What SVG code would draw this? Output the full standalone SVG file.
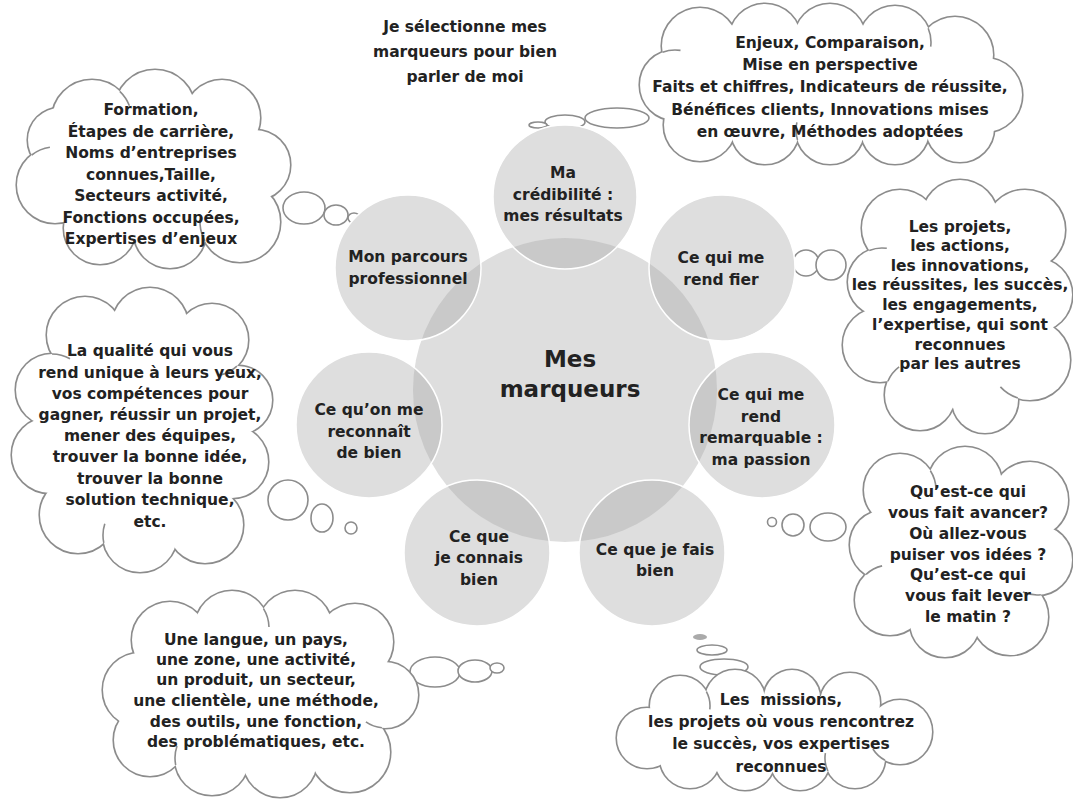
<svg xmlns="http://www.w3.org/2000/svg" xmlns:xlink="http://www.w3.org/1999/xlink" width="1073" height="806" viewBox="0 0 1073 806">
<style>
text{font-family:"DejaVu Sans","Liberation Sans",sans-serif;font-weight:bold;font-size:15.5px;fill:#222;text-anchor:middle}
.big{font-size:23px}
.cs{fill:#fff;stroke:#8c8c8c;stroke-width:3.2}
.cf{fill:#fff;stroke:none}
.hook{fill:none;stroke:#8c8c8c;stroke-width:1.6}
.disc{fill:#dedede}
.lap{fill:#c9c9c9}
.ring{fill:none;stroke:#fff;stroke-width:1.5}
.bub{fill:#fff;stroke:#8c8c8c;stroke-width:1.6}
</style>
<defs>
<clipPath id="cc"><circle cx="565" cy="390" r="152"/></clipPath>
<g id="k1"><circle cx="92" cy="120" r="40"/><circle cx="155" cy="110" r="40"/><circle cx="222" cy="118" r="38"/><circle cx="255" cy="165" r="35"/><circle cx="240" cy="222" r="40"/><circle cx="170" cy="232" r="36"/><circle cx="100" cy="228" r="36"/><circle cx="55" cy="185" r="38"/><circle cx="60" cy="140" r="32"/></g>
<g id="k2"><circle cx="700" cy="46" r="38"/><circle cx="765" cy="40" r="36"/><circle cx="830" cy="40" r="36"/><circle cx="895" cy="42" r="36"/><circle cx="955" cy="55" r="38"/><circle cx="985" cy="95" r="37"/><circle cx="960" cy="128" r="34"/><circle cx="895" cy="130" r="34"/><circle cx="830" cy="130" r="34"/><circle cx="765" cy="130" r="34"/><circle cx="700" cy="125" r="36"/><circle cx="675" cy="85" r="35"/></g>
<g id="k3"><circle cx="900" cy="228" r="38"/><circle cx="960" cy="218" r="38"/><circle cx="1025" cy="230" r="40"/><circle cx="1035" cy="295" r="37"/><circle cx="1030" cy="360" r="40"/><circle cx="985" cy="400" r="33"/><circle cx="920" cy="395" r="35"/><circle cx="880" cy="345" r="37"/><circle cx="882" cy="282" r="34"/></g>
<g id="k4"><circle cx="85" cy="335" r="38"/><circle cx="150" cy="326" r="38"/><circle cx="212" cy="340" r="36"/><circle cx="238" cy="400" r="34"/><circle cx="232" cy="462" r="36"/><circle cx="205" cy="525" r="38"/><circle cx="140" cy="535" r="37"/><circle cx="78" cy="515" r="38"/><circle cx="50" cy="455" r="38"/><circle cx="52" cy="390" r="36"/></g>
<g id="k5"><circle cx="900" cy="490" r="36"/><circle cx="965" cy="484" r="37"/><circle cx="1030" cy="500" r="38"/><circle cx="1037" cy="560" r="35"/><circle cx="1010" cy="617" r="38"/><circle cx="945" cy="622" r="35"/><circle cx="890" cy="600" r="35"/><circle cx="885" cy="545" r="35"/></g>
<g id="k6"><circle cx="170" cy="640" r="38"/><circle cx="232" cy="628" r="37"/><circle cx="295" cy="628" r="37"/><circle cx="355" cy="642" r="38"/><circle cx="385" cy="695" r="33"/><circle cx="350" cy="752" r="40"/><circle cx="280" cy="760" r="37"/><circle cx="212" cy="758" r="37"/><circle cx="150" cy="740" r="36"/><circle cx="140" cy="690" r="37"/></g>
<g id="k7"><circle cx="647" cy="738" r="30"/><circle cx="680" cy="706" r="30"/><circle cx="735" cy="700" r="30"/><circle cx="792" cy="698" r="28"/><circle cx="850" cy="703" r="30"/><circle cx="900" cy="732" r="32"/><circle cx="855" cy="758" r="30"/><circle cx="800" cy="760" r="30"/><circle cx="745" cy="760" r="30"/><circle cx="690" cy="758" r="30"/></g>
</defs>
<rect width="1073" height="806" fill="#fff"/>

<g id="connectors">
<ellipse class="bub" cx="304" cy="208" rx="21" ry="16"/>
<ellipse class="bub" cx="336" cy="215" rx="12" ry="10"/>
<ellipse class="bub" cx="354" cy="218" rx="6" ry="5"/>
<ellipse class="bub" cx="617" cy="118" rx="32" ry="10"/>
<ellipse class="bub" cx="565" cy="122" rx="20" ry="7"/>
<ellipse class="bub" cx="538" cy="125" rx="9" ry="3"/>
<circle class="bub" cx="789" cy="259" r="5"/>
<circle class="bub" cx="806" cy="263" r="13"/>
<circle class="bub" cx="831" cy="265" r="15"/>
<circle class="bub" cx="288" cy="500" r="20"/>
<ellipse class="bub" cx="322" cy="518" rx="11" ry="14"/>
<circle class="bub" cx="351" cy="528" r="6"/>
<circle class="bub" cx="772" cy="522" r="4.5"/>
<circle class="bub" cx="793" cy="525" r="11"/>
<ellipse class="bub" cx="828" cy="527" rx="18" ry="14"/>
<ellipse class="bub" cx="435" cy="672" rx="25" ry="15"/>
<ellipse class="bub" cx="475" cy="671" rx="17" ry="11"/>
<ellipse class="bub" cx="497" cy="668" rx="7" ry="5"/>
<ellipse cx="700" cy="637" rx="7" ry="3" fill="#aaa"/>
<ellipse class="bub" cx="712" cy="650" rx="15" ry="5"/>
<ellipse class="bub" cx="724" cy="667" rx="24" ry="8"/>
</g>

<g id="hub">
<circle class="disc" cx="565" cy="390" r="152"/>
<g id="discs">
<circle class="disc" cx="565" cy="197" r="72"/>
<circle class="disc" cx="408" cy="268" r="73"/>
<circle class="disc" cx="722" cy="268" r="73"/>
<circle class="disc" cx="369" cy="425" r="73"/>
<circle class="disc" cx="762" cy="425" r="73"/>
<circle class="disc" cx="477" cy="553" r="73"/>
<circle class="disc" cx="652" cy="553" r="73"/>
</g>
<g clip-path="url(#cc)">
<circle class="lap" cx="565" cy="197" r="72"/>
<circle class="lap" cx="408" cy="268" r="73"/>
<circle class="lap" cx="722" cy="268" r="73"/>
<circle class="lap" cx="369" cy="425" r="73"/>
<circle class="lap" cx="762" cy="425" r="73"/>
<circle class="lap" cx="477" cy="553" r="73"/>
<circle class="lap" cx="652" cy="553" r="73"/>
</g>
<circle class="ring" cx="565" cy="197" r="72"/>
<circle class="ring" cx="408" cy="268" r="73"/>
<circle class="ring" cx="722" cy="268" r="73"/>
<circle class="ring" cx="369" cy="425" r="73"/>
<circle class="ring" cx="762" cy="425" r="73"/>
<circle class="ring" cx="477" cy="553" r="73"/>
<circle class="ring" cx="652" cy="553" r="73"/>
<text class="big" x="570" y="367">Mes</text>
<text class="big" x="570" y="397">marqueurs</text>
</g>

<g id="n-credibilite"><text x="563" y="178">Ma</text><text x="563" y="199.5">crédibilité :</text><text x="563" y="221">mes résultats</text></g>
<g id="n-parcours"><text x="408" y="262">Mon parcours</text><text x="408" y="284">professionnel</text></g>
<g id="n-fier"><text x="721" y="263">Ce qui me</text><text x="721" y="285">rend fier</text></g>
<g id="n-reconnait"><text x="369" y="415">Ce qu’on me</text><text x="369" y="437">reconnaît</text><text x="369" y="458">de bien</text></g>
<g id="n-remarquable"><text x="761" y="400">Ce qui me</text><text x="761" y="422">rend</text><text x="761" y="443">remarquable :</text><text x="761" y="465">ma passion</text></g>
<g id="n-connais"><text x="479" y="542">Ce que</text><text x="479" y="563">je connais</text><text x="479" y="585">bien</text></g>
<g id="n-fais"><text x="655" y="555">Ce que je fais</text><text x="655" y="576">bien</text></g>

<g id="title"><text x="465" y="32">Je sélectionne mes</text><text x="465" y="57">marqueurs pour bien</text><text x="465" y="82">parler de moi</text></g>

<g id="cloud-parcours">
<use xlink:href="#k1" class="cs"/><use xlink:href="#k1" class="cf"/><ellipse class="cf" cx="151" cy="172" rx="110" ry="68"/>
<path class="hook" d="M119.8,91.4 A40,40 0 0 1 129.4,105.8 M204.9,241.1 A40,40 0 0 1 200.3,217.5 M31.8,155 A38,38 0 0 1 49.9,147.3"/>
<text x="151" y="115">Formation,</text><text x="151" y="136.5">Étapes de carrière,</text><text x="151" y="158">Noms d’entreprises</text><text x="151" y="179.5">connues,Taille,</text><text x="151" y="201">Secteurs activité,</text><text x="151" y="222.5">Fonctions occupées,</text><text x="151" y="244">Expertises d’enjeux</text>
</g>
<g id="cloud-credibilite">
<use xlink:href="#k2" class="cs"/><use xlink:href="#k2" class="cf"/><ellipse class="cf" cx="830" cy="86" rx="165" ry="55"/>
<path class="hook" d="M928.2,28.2 A36,36 0 0 1 930.7,46.6 M797.5,140 A34,34 0 0 1 796.9,122.4 M662.5,52.3 A35,35 0 0 1 680.5,50.4"/>
<text x="830" y="48">Enjeux, Comparaison,</text><text x="830" y="70">Mise en perspective</text><text x="830" y="92">Faits et chiffres, Indicateurs de réussite,</text><text x="830" y="115">Bénéfices clients, Innovations mises</text><text x="830" y="137">en œuvre, Méthodes adoptées</text>
</g>
<g id="cloud-fier">
<use xlink:href="#k3" class="cs"/><use xlink:href="#k3" class="cf"/><ellipse class="cf" cx="958" cy="308" rx="85" ry="100"/>
<path class="hook" d="M869.3,250.4 A34,34 0 0 1 886.8,248.3 M1017.8,398 A40,40 0 0 1 1000.4,386.9 M887.9,381.2 A35,35 0 0 1 899.1,366.9"/>
<text x="960" y="232">Les projets,</text><text x="960" y="251">les actions,</text><text x="960" y="271">les innovations,</text><text x="960" y="290">les réussites, les succès,</text><text x="960" y="310">les engagements,</text><text x="960" y="330">l’expertise, qui sont</text><text x="960" y="350">reconnues</text><text x="960" y="369">par les autres</text>
</g>
<g id="cloud-reconnait">
<use xlink:href="#k4" class="cs"/><use xlink:href="#k4" class="cf"/><ellipse class="cf" cx="142" cy="430" rx="100" ry="110"/>
<path class="hook" d="M236.9,366.1 A36,36 0 0 1 220.5,375 M103.8,542.9 A37,37 0 0 1 104.8,523.8 M52,354 A36,36 0 0 1 70,358.8"/>
<text x="150" y="356">La qualité qui vous</text><text x="150" y="378">rend unique à leurs yeux,</text><text x="150" y="399">vos compétences pour</text><text x="150" y="420">gagner, réussir un projet,</text><text x="150" y="441">mener des équipes,</text><text x="150" y="462">trouver la bonne idée,</text><text x="150" y="484">trouver la bonne</text><text x="150" y="505">solution technique,</text><text x="150" y="527">etc.</text>
</g>
<g id="cloud-passion">
<use xlink:href="#k5" class="cs"/><use xlink:href="#k5" class="cf"/><ellipse class="cf" cx="960" cy="553" rx="85" ry="75"/>
<path class="hook" d="M1040.8,594.8 A35,35 0 0 1 1022.9,592 M866.1,574.4 A35,35 0 0 1 882.1,565.9 M930.4,470.8 A36,36 0 0 1 936,488.6"/>
<text x="968" y="497">Qu’est-ce qui</text><text x="968" y="518">vous fait avancer?</text><text x="968" y="539">Où allez-vous</text><text x="968" y="560">puiser vos idées ?</text><text x="968" y="580">Qu’est-ce qui</text><text x="968" y="601">vous fait lever</text><text x="968" y="622">le matin ?</text>
</g>
<g id="cloud-connais">
<use xlink:href="#k6" class="cs"/><use xlink:href="#k6" class="cf"/><ellipse class="cf" cx="262" cy="695" rx="120" ry="65"/>
<path class="hook" d="M263.5,608.6 A37,37 0 0 1 269,627 M381.9,727.8 A33,33 0 0 1 365.9,721.9 M175.7,765 A37,37 0 0 1 177,745.9"/>
<text x="256" y="645">Une langue, un pays,</text><text x="256" y="665">une zone, une activité,</text><text x="256" y="685">un produit, un secteur,</text><text x="256" y="706">une clientèle, une méthode,</text><text x="256" y="727">des outils, une fonction,</text><text x="256" y="747">des problématiques, etc.</text>
</g>
<g id="cloud-fais">
<use xlink:href="#k7" class="cs"/><use xlink:href="#k7" class="cf"/><ellipse class="cf" cx="776" cy="732" rx="130" ry="38"/>
<path class="hook" d="M706.4,691.6 A30,30 0 0 1 709.8,709.3 M827.9,771 A30,30 0 0 1 825.4,753.1 M885,760.2 A32,32 0 0 1 872.9,749"/>
<text x="781" y="705">Les&#160; missions,</text><text x="781" y="727">les projets où vous rencontrez</text><text x="781" y="749">le succès, vos expertises</text><text x="781" y="772">reconnues</text>
</g>
</svg>
